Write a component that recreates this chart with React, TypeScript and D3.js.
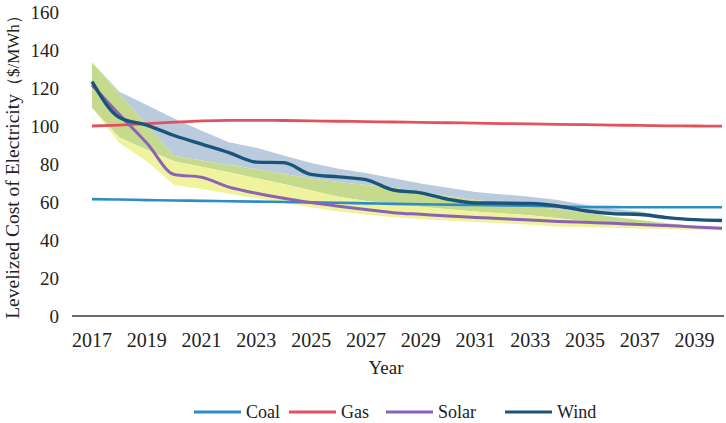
import * as d3 from "d3";

const years = [
  2017, 2018, 2019, 2020, 2021, 2022, 2023, 2024, 2025, 2026, 2027, 2028,
  2029, 2030, 2031, 2032, 2033, 2034, 2035, 2036, 2037, 2038, 2039, 2040,
];
const tickYears = [2017, 2019, 2021, 2023, 2025, 2027, 2029, 2031, 2033, 2035, 2037, 2039];
const yTicks = [0, 20, 40, 60, 80, 100, 120, 140, 160];

// series values ($/MWh)
const coal = [61.5, 61.3, 61.0, 60.8, 60.6, 60.4, 60.2, 60.0, 59.8, 59.6, 59.3, 59.0, 58.8, 58.6, 58.4, 58.2, 58.0, 57.7, 57.4, 57.3, 57.2, 57.2, 57.2, 57.2];
const gas = [100, 100.5, 101.2, 102, 102.7, 103, 103, 102.9, 102.7, 102.5, 102.3, 102.1, 101.9, 101.7, 101.5, 101.3, 101.1, 100.9, 100.7, 100.5, 100.3, 100.1, 100, 99.9];
const solar = [121.6, 106, 91, 74.5, 73, 67.8, 64.6, 62, 59.7, 57.8, 56.1, 54.4, 53.5, 52.6, 51.9, 51.2, 50.5, 49.8, 49.3, 48.8, 48.1, 47.6, 46.8, 46.2];
const wind = [123.3, 104.5, 100.5, 95, 90.5, 86, 81, 80.7, 74.5, 73.2, 71.8, 66.3, 64.8, 61.4, 59.5, 59.4, 59.2, 57.9, 55.4, 53.9, 53.4, 51.8, 50.7, 50.3];

// shaded ranges
const blueHigh = [133.5, 118, 111, 104, 97.5, 91.5, 88.5, 84.5, 80.5, 77.5, 75.2, 72.5, 69.8, 67.5, 65.3, 64, 62.7, 61, 58.5, 56.5, 55, 52.5, 50.7, 50.3];
const blueLow = [133.5, 117, 100.5, 84.2, 81.8, 79.6, 77.2, 74.8, 72.4, 70.5, 69, 67.5, 65.3, 63.2, 61, 59.5, 57.8, 56.2, 54.5, 53.5, 53, 51.6, 50.7, 50.3];
const greenHigh = [133.5, 117, 100.5, 84.2, 81.8, 79.6, 77.2, 74.8, 72.4, 70.5, 69, 67.5, 65.3, 63.2, 61, 59.5, 57.8, 56.2, 54.5, 52.3, 50.5, 48.8, 47.2, 46.3];
const greenLow = [109.6, 94, 87.5, 81.5, 78.5, 75.6, 72.5, 69.5, 66, 62.8, 60.5, 59, 57.5, 56.2, 55, 54, 53, 51.5, 50, 48.8, 48, 47.4, 46.8, 46.3];
const yellowLow = [109.6, 91, 81.5, 69, 66.8, 64.4, 62, 59.6, 57.3, 55, 53.4, 52, 51, 50.2, 49.5, 48.8, 48, 47, 46.7, 46.4, 46, 45.7, 45.4, 45];

const seriesNames = ["Coal", "Gas", "Solar", "Wind"];
const seriesValues = [coal, gas, solar, wind];
const colors = ["#2f8cc4", "#e0525c", "#8c62b4", "#1b5478"];
const widths = [2.6, 2.8, 3, 3.4];
const legendX = [194, 289, 386, 505];

const font = "'Liberation Serif', 'Times New Roman', Times, serif";

export default function App() {
  const width = 726;
  const height = 423;
  const x = d3.scalePoint<number>().domain(years).range([92, 722]);
  const y = d3.scaleLinear().domain([0, 160]).range([316, 12]);

  const band = (hi: number[], lo: number[]) =>
    d3
      .area<number>()
      .x((d) => x(d) as number)
      .y0((_, i) => y(lo[i]))
      .y1((_, i) => y(hi[i]))(years) as string;

  const line = (vals: number[]) =>
    d3
      .line<number>()
      .x((d) => x(d) as number)
      .y((_, i) => y(vals[i]))
      .curve(d3.curveMonotoneX)(years) as string;

  return (
    <div style={{ position: "absolute", left: 0, top: 0 }}>
      <svg width={width} height={height} viewBox={`0 0 ${width} ${height}`} style={{ fontFamily: font }}>
        <rect width={width} height={height} fill="#ffffff" />

        {/* ranges */}
        <path d={band(blueHigh, blueLow)} fill="#b9cbdd" />
        <path d={band(greenHigh, greenLow)} fill="#c6da8d" />
        <path d={band(greenLow, yellowLow)} fill="#f0f39e" />

        {/* x axis line */}
        <line x1={72} x2={724} y1={y(0)} y2={y(0)} stroke="#3a3a3a" strokeWidth={1.5} />

        {yTicks.map((t) => (
          <text key={t} x={59} y={y(t)} dy="0.35em" textAnchor="end" fontSize={19} fill="#222">
            {t}
          </text>
        ))}
        {tickYears.map((t) => (
          <text key={t} x={x(t)} y={347} textAnchor="middle" fontSize={20} fill="#222">
            {t}
          </text>
        ))}

        <text x={386} y={374} textAnchor="middle" fontSize={19} fill="#222">
          Year
        </text>
        <text
          transform={`translate(19,163) rotate(-90)`}
          textAnchor="middle"
          fontSize={19.5}
          fill="#222"
        >
          Levelized Cost of Electricity<tspan fontSize={17}>（$/MWh）</tspan>
        </text>

        {/* series lines */}
        {seriesValues.map((vals, i) => (
          <path
            key={seriesNames[i]}
            d={line(vals)}
            fill="none"
            stroke={colors[i]}
            strokeWidth={widths[i]}
            strokeLinejoin="round"
          />
        ))}

        {/* legend */}
        {seriesNames.map((name, i) => (
          <g key={name} transform={`translate(${legendX[i]},412)`}>
            <line x1={0} x2={47} y1={0} y2={0} stroke={colors[i]} strokeWidth={3} />
            <text x={52} y={6} fontSize={18} fill="#222">
              {name}
            </text>
          </g>
        ))}
      </svg>
    </div>
  );
}
